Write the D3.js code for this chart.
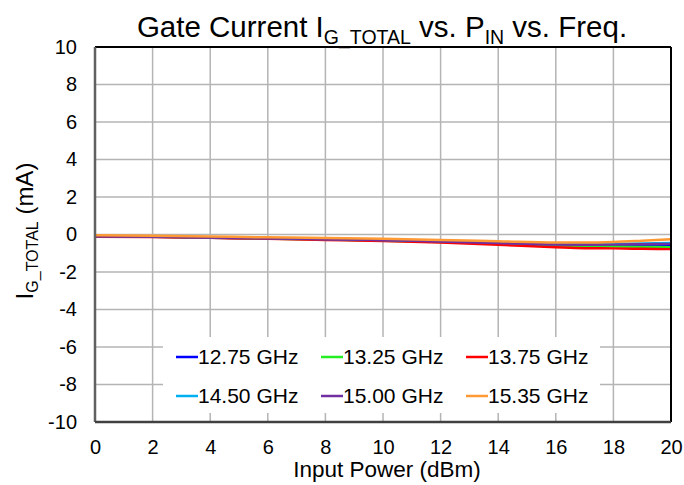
<!DOCTYPE html>
<html><head><meta charset="utf-8">
<script src="https://cdn.jsdelivr.net/npm/d3@7"></script>
<style>body{margin:0;background:#fff;} svg{display:block;font-family:"Liberation Sans",Arial,sans-serif;}</style>
</head><body><svg id="c" width="684" height="485"></svg>
<script>
const pin = [0, 2, 4, 6, 8, 10, 12, 14, 16, 17, 18, 19, 20];
const f1275 = [-0.10, -0.12, -0.17, -0.21, -0.26, -0.31, -0.38, -0.47, -0.57, -0.60, -0.60, -0.58, -0.55];
const f1325 = [-0.11, -0.12, -0.17, -0.22, -0.27, -0.33, -0.40, -0.49, -0.58, -0.62, -0.64, -0.66, -0.68];
const f1375 = [-0.12, -0.13, -0.18, -0.23, -0.29, -0.35, -0.43, -0.55, -0.68, -0.73, -0.74, -0.76, -0.78];
const f1450 = [-0.08, -0.10, -0.15, -0.19, -0.24, -0.29, -0.35, -0.42, -0.50, -0.51, -0.50, -0.48, -0.45];
const f1500 = [-0.09, -0.11, -0.16, -0.20, -0.25, -0.30, -0.37, -0.45, -0.54, -0.55, -0.54, -0.52, -0.50];
const f1535 = [-0.04, -0.07, -0.11, -0.15, -0.19, -0.23, -0.29, -0.36, -0.43, -0.43, -0.40, -0.33, -0.25];
const seriesNames = ["12.75 GHz", "13.25 GHz", "13.75 GHz", "14.50 GHz", "15.00 GHz", "15.35 GHz"];
const seriesColors = ["#0000ff", "#22ee22", "#ff0000", "#00b0f0", "#7030a0", "#ff9933"];
const xTicks = [0, 2, 4, 6, 8, 10, 12, 14, 16, 18, 20];
const yTicks = [-10, -8, -6, -4, -2, 0, 2, 4, 6, 8, 10];
const seriesValues = [f1275, f1325, f1375, f1450, f1500, f1535];

const svg = d3.select("#c");
const L = 95, R = 671, T = 47, B = 422;
const x = d3.scaleLinear().domain([0, 20]).range([L, R]);
const y = d3.scaleLinear().domain([-10, 10]).range([B, T]);
const fmt = d => String(d).replace("\u2212", "-");

// grid
svg.append("g").selectAll("line").data(xTicks.slice(1, -1)).join("line")
  .attr("x1", d => x(d)).attr("x2", d => x(d)).attr("y1", T).attr("y2", B)
  .attr("stroke", "#b4b4b4").attr("stroke-width", 1.5);
svg.append("g").selectAll("line").data(yTicks.slice(1, -1)).join("line")
  .attr("x1", L).attr("x2", R).attr("y1", d => y(d)).attr("y2", d => y(d))
  .attr("stroke", "#b4b4b4").attr("stroke-width", 1.5);

// lines
const line = d3.line().x((d, i) => x(pin[i])).y(d => y(d)).curve(d3.curveMonotoneX);
seriesValues.forEach((vals, k) => {
  svg.append("path").datum(vals).attr("d", line).attr("fill", "none")
    .attr("stroke", seriesColors[k]).attr("stroke-width", 2.5);
});

// frame
svg.append("line").attr("x1", L).attr("x2", R).attr("y1", T).attr("y2", T).attr("stroke", "#000").attr("stroke-width", 2);
svg.append("line").attr("x1", R).attr("x2", R).attr("y1", T).attr("y2", B).attr("stroke", "#000").attr("stroke-width", 2);
svg.append("line").attr("x1", L).attr("x2", L).attr("y1", T).attr("y2", B).attr("stroke", "#606060").attr("stroke-width", 2.5);
svg.append("line").attr("x1", L).attr("x2", R).attr("y1", B).attr("y2", B).attr("stroke", "#404040").attr("stroke-width", 2.5);

// axes
const xa = svg.append("g").attr("transform", `translate(0,${B})`)
  .call(d3.axisBottom(x).tickValues(xTicks).tickSize(0).tickPadding(18).tickFormat(fmt));
xa.select(".domain").remove();
xa.selectAll("text").attr("font-size", 20).attr("fill", "#000").attr("font-family", "Liberation Sans, Arial, sans-serif");
const ya = svg.append("g").attr("transform", `translate(${L},0)`)
  .call(d3.axisLeft(y).tickValues(yTicks).tickSize(0).tickPadding(18).tickFormat(fmt));
ya.select(".domain").remove();
ya.selectAll("text").attr("font-size", 20).attr("fill", "#000").attr("font-family", "Liberation Sans, Arial, sans-serif");

// title
const title = svg.append("text").attr("x", 382).attr("y", 37).attr("text-anchor", "middle")
  .attr("font-size", 29.5).attr("fill", "#000");
title.append("tspan").text("Gate Current I");
title.append("tspan").attr("dy", 7).attr("font-size", 19.5).text("G_TOTAL");
title.append("tspan").attr("dy", -7).text(" vs. P");
title.append("tspan").attr("dy", 7).attr("font-size", 19.5).text("IN");
title.append("tspan").attr("dy", -7).text(" vs. Freq.");

// x label
svg.append("text").attr("x", 387).attr("y", 477).attr("text-anchor", "middle")
  .attr("font-size", 22.5).attr("fill", "#000").text("Input Power (dBm)");

// y label
const yl = svg.append("text").attr("transform", "translate(33,231) rotate(-90)")
  .attr("text-anchor", "middle").attr("font-size", 24).attr("fill", "#000");
yl.append("tspan").text("I");
yl.append("tspan").attr("dy", 5).attr("font-size", 16).text("G_TOTAL");
yl.append("tspan").attr("dy", -5).text(" (mA)");

// legend
svg.append("rect").attr("x", 163).attr("y", 337).attr("width", 437).attr("height", 76).attr("fill", "#fff");
const colX = [176, 321, 466], rowY = [357, 396];
seriesNames.forEach((n, i) => {
  const cx = colX[i % 3], cy = rowY[Math.floor(i / 3)];
  svg.append("line").attr("x1", cx).attr("x2", cx + 22).attr("y1", cy).attr("y2", cy)
    .attr("stroke", seriesColors[i]).attr("stroke-width", 2.5);
  svg.append("text").attr("x", cx + 22).attr("y", cy + 6.5).attr("font-size", 21).attr("fill", "#000").text(n);
});
</script></body></html>
